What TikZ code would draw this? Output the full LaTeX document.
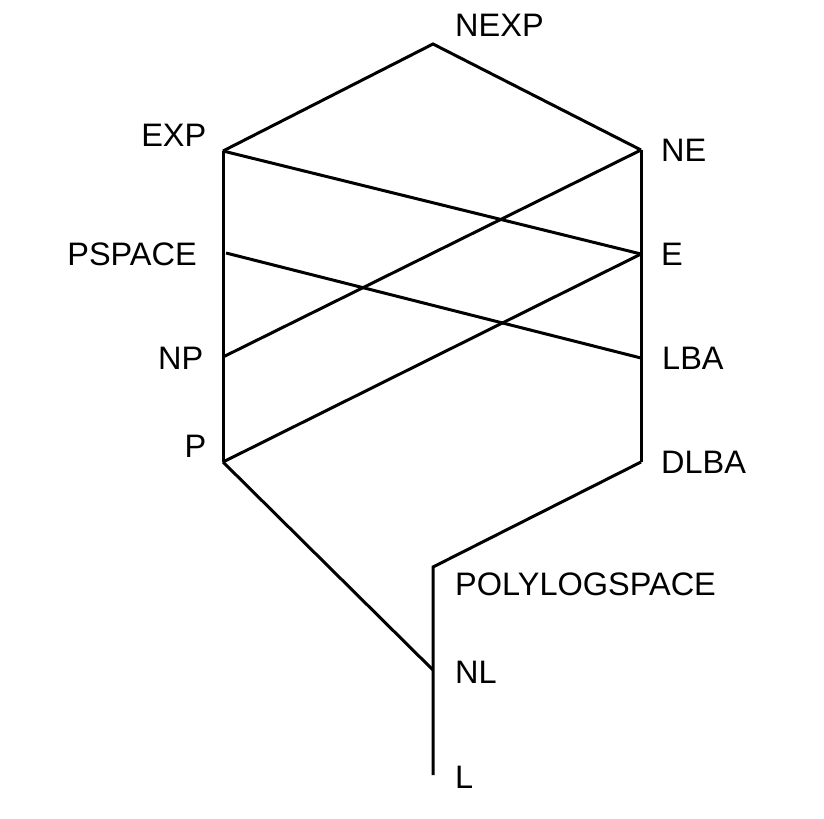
\documentclass[tikz,border=0pt]{standalone}
\usepackage{fontspec}
\setmainfont{Liberation Sans}
\begin{document}
\begin{tikzpicture}[x=1bp,y=-1bp,
  edge/.style={line width=3bp,line cap=butt,line join=miter},
  lblr/.style={anchor=base west,inner sep=0pt,font=\fontsize{32.5bp}{38bp}\selectfont},
  lbll/.style={anchor=base east,inner sep=0pt,font=\fontsize{32.5bp}{38bp}\selectfont}]
\useasboundingbox (0,0) rectangle (824,819);
% junction points
\coordinate (nexp) at (433,44);
\coordinate (exp) at (223,151);
\coordinate (ne) at (641,150);
\coordinate (pspace) at (226,253);
\coordinate (e) at (641,254);
\coordinate (np) at (223,357);
\coordinate (lba) at (641,358);
\coordinate (p) at (223,462);
\coordinate (dlba) at (641,462);
\coordinate (poly) at (433,567);
\coordinate (nl) at (433,670);
\coordinate (l) at (433,775);
% labels
\node[lblr] (tnexp) at (455,37) {NEXP};
\node[lbll] (texp) at (206.5,146) {EXP};
\node[lblr] (tne) at (661,161) {NE};
\node[lbll] (tpspace) at (197,265) {PSPACE};
\node[lblr] (te) at (661,265) {E};
\node[lbll] (tnp) at (203.5,369) {NP};
\node[lblr] (tlba) at (662,369) {LBA};
\node[lbll] (tp) at (206.5,457) {P};
\node[lblr] (tdlba) at (661,473) {DLBA};
\node[lblr] (tpoly) at (455,595) {POLYLOGSPACE};
\node[lblr] (tnl) at (455,683) {NL};
\node[lblr] (tl) at (455,788) {L};
% edges
\draw[edge] (exp) -- (nexp) -- (ne);
\draw[edge] (exp) -- (np) -- (p);
\draw[edge] (ne) -- (e) -- (lba) -- (dlba);
\draw[edge] (exp) -- (e);
\draw[edge] (pspace) -- (lba);
\draw[edge] (np) -- (ne);
\draw[edge] (p) -- (e);
\draw[edge] (p) -- (nl);
\draw[edge] (dlba) -- (poly) -- (nl) -- (l);
\end{tikzpicture}
\end{document}
